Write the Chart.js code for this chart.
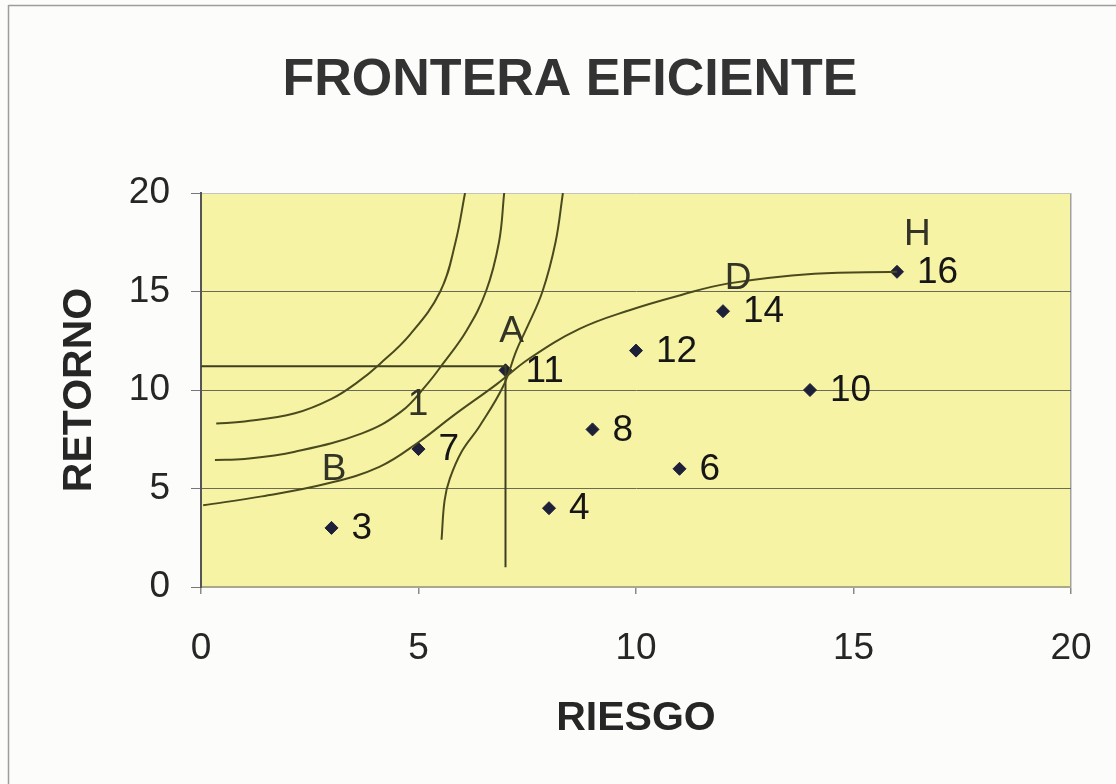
<!DOCTYPE html>
<html>
<head>
<meta charset="utf-8">
<script src="https://cdn.jsdelivr.net/npm/chart.js@4.4.1/dist/chart.umd.min.js"></script>
<style>
  html, body { margin: 0; padding: 0; background: #fcfcfa; }
  #wrap { position: relative; width: 1116px; height: 784px; }
  canvas { display: block; }
</style>
</head>
<body>
<div id="wrap"><canvas id="c" width="1116" height="784"></canvas></div>
<script>
// Texts
const titleText = 'FRONTERA EFICIENTE';
const xAxisTitle = 'RIESGO';
const yAxisTitle = 'RETORNO';

// Axis ticks
const tickMin = 0;
const tickMax = 20;
const tickStep = 5;

// Portfolios: risk (x) and return (y)
const riskValues = [3, 5, 7, 8, 9, 10, 11, 12, 14, 16];
const returnValues = [3, 7, 11, 4, 8, 12, 6, 14, 10, 16];

// Efficient frontier
const frontierX = [0.05, 1.4, 2.9, 4.1, 5.0, 5.8, 6.8, 7.55, 8.7, 9.85, 11.0, 12.1, 14.1, 16.0];
const frontierY = [4.15, 4.6, 5.25, 6.1, 7.35, 8.7, 10.3, 11.6, 13.1, 14.05, 14.8, 15.4, 15.9, 16.0];

// Indifference curves
const indif1X = [0.35, 1.0, 2.16, 3.0, 3.6, 4.1, 4.8, 5.5, 5.85, 6.07];
const indif1Y = [8.3, 8.4, 8.82, 9.55, 10.4, 11.3, 12.8, 15.0, 17.5, 20.0];
const indif2X = [0.32, 1.0, 2.16, 3.7, 4.6, 5.2, 5.55, 6.1, 6.55, 6.85, 6.97];
const indif2Y = [6.45, 6.5, 6.87, 7.8, 8.9, 10.3, 11.3, 13.0, 15.0, 17.5, 20.0];
const indif3X = [5.53, 5.6, 5.72, 6.0, 6.4, 6.95, 7.25, 7.5, 7.85, 8.15, 8.32];
const indif3Y = [2.4, 4.4, 5.5, 6.9, 8.15, 10.2, 12.0, 13.2, 15.0, 17.5, 20.0];

// Reference lines through portfolio A
const guideX = [0, 7, 7];
const guideY = [11.2, 11.2, 1.0];

// Letter labels along the frontier
const letterText = ['B', '1', 'A', 'D', 'H'];
const letterX = [3.06, 4.99, 7.14, 12.35, 16.47];
const letterY = [5.94, 9.24, 12.96, 15.67, 17.87];

const FONT = "'Liberation Sans', Arial, sans-serif";
const INK = '#262626';
const CURVE = '#4a4a1e';

const toPts = (xs, ys) => xs.map((x, i) => ({ x: x, y: ys[i] }));

const curveStyle = {
  showLine: true,
  pointRadius: 0,
  borderColor: CURVE,
  borderWidth: 2,
  tension: 0.4,
  fill: false
};

const plotBackground = {
  id: 'plotBackground',
  beforeDraw(chart) {
    const { ctx, chartArea: a } = chart;
    ctx.save();
    ctx.fillStyle = '#f6f4a4';
    ctx.fillRect(a.left, a.top, a.right - a.left, a.bottom - a.top);
    ctx.restore();
  }
};

const pageFrame = {
  id: 'pageFrame',
  afterDraw(chart) {
    const ctx = chart.ctx;
    ctx.save();
    ctx.strokeStyle = '#9c9c9c';
    ctx.lineWidth = 1.5;
    ctx.beginPath();
    ctx.moveTo(8.5, 5);
    ctx.lineTo(8.5, 784);
    ctx.moveTo(8.5, 5.5);
    ctx.lineTo(1116, 5.5);
    ctx.stroke();
    ctx.restore();
  }
};

const chartTitle = {
  id: 'chartTitle',
  afterDraw(chart) {
    const ctx = chart.ctx;
    ctx.save();
    ctx.fillStyle = '#333333';
    ctx.font = 'bold 52px ' + FONT;
    ctx.textAlign = 'center';
    ctx.textBaseline = 'middle';
    ctx.fillText(titleText, 570, 81);
    ctx.restore();
  }
};

const pointLabels = {
  id: 'pointLabels',
  afterDatasetsDraw(chart) {
    const ctx = chart.ctx;
    const xs = chart.scales.x, ys = chart.scales.y;
    ctx.save();
    ctx.textBaseline = 'middle';
    ctx.textAlign = 'left';
    ctx.fillStyle = '#161616';
    ctx.font = '37px ' + FONT;
    riskValues.forEach((r, i) => {
      const px = xs.getPixelForValue(r);
      const py = ys.getPixelForValue(returnValues[i]);
      ctx.fillText(String(returnValues[i]), px + 20, py + 1);
    });
    ctx.textAlign = 'center';
    ctx.fillStyle = '#333326';
    ctx.font = '37px ' + FONT;
    letterText.forEach((t, i) => {
      ctx.fillText(t, xs.getPixelForValue(letterX[i]), ys.getPixelForValue(letterY[i]));
    });
    ctx.restore();
  }
};

new Chart(document.getElementById('c'), {
  type: 'scatter',
  data: {
    datasets: [
      Object.assign({ label: 'I1', data: toPts(indif1X, indif1Y) }, curveStyle),
      Object.assign({ label: 'I2', data: toPts(indif2X, indif2Y) }, curveStyle),
      Object.assign({ label: 'I3', data: toPts(indif3X, indif3Y) }, curveStyle),
      Object.assign({ label: 'Frontera', data: toPts(frontierX, frontierY) }, curveStyle),
      {
        label: 'Guía',
        data: toPts(guideX, guideY),
        showLine: true,
        pointRadius: 0,
        borderColor: '#3e3e22',
        borderWidth: 2,
        tension: 0
      },
      {
        label: 'Carteras',
        data: toPts(riskValues, returnValues),
        showLine: false,
        pointStyle: 'rectRot',
        pointRadius: 6.5,
        backgroundColor: '#1d2038',
        borderColor: '#1d2038',
        borderWidth: 1
      }
    ]
  },
  options: {
    responsive: false,
    devicePixelRatio: 1,
    animation: false,
    layout: { padding: { left: 0, right: 45, top: 193, bottom: 0 } },
    plugins: {
      legend: { display: false },
      tooltip: { enabled: false },
      title: { display: false }
    },
    scales: {
      x: {
        type: 'linear',
        min: tickMin,
        max: tickMax,
        afterFit(s) { s.height = 197; s.paddingLeft = 0; s.paddingRight = 0; },
        ticks: { stepSize: tickStep, color: INK, font: { family: FONT, size: 37 }, padding: 33 },
        grid: {
          color: (c) => (c.tick && c.tick.value === tickMax) ? '#a0a0a0' : 'rgba(0,0,0,0)',
          lineWidth: 1.5,
          tickLength: 7,
          tickColor: '#8a8a8a'
        },
        border: { color: '#a8a88a', width: 2 },
        title: {
          display: true,
          text: xAxisTitle,
          color: INK,
          font: { family: FONT, size: 41, weight: 'bold' },
          padding: { top: 0, bottom: 41 }
        }
      },
      y: {
        type: 'linear',
        min: tickMin,
        max: tickMax,
        afterFit(s) { s.width = 201; s.paddingTop = 0; s.paddingBottom = 0; },
        ticks: { stepSize: tickStep, color: INK, font: { family: FONT, size: 37 }, padding: 21 },
        grid: {
          color: (c) => {
            const v = c.tick ? c.tick.value : null;
            if (v === tickMax) return '#c4c4bc';
            if (v === tickMin) return 'rgba(0,0,0,0)';
            return '#6a6a58';
          },
          lineWidth: 1,
          tickLength: 10,
          tickColor: '#777777'
        },
        border: { color: '#555555', width: 2 },
        title: {
          display: true,
          text: yAxisTitle,
          color: INK,
          font: { family: FONT, size: 41, weight: 'bold' },
          padding: { top: 55, bottom: 0 }
        }
      }
    }
  },
  plugins: [plotBackground, pointLabels, chartTitle, pageFrame]
});
</script>
</body>
</html>
